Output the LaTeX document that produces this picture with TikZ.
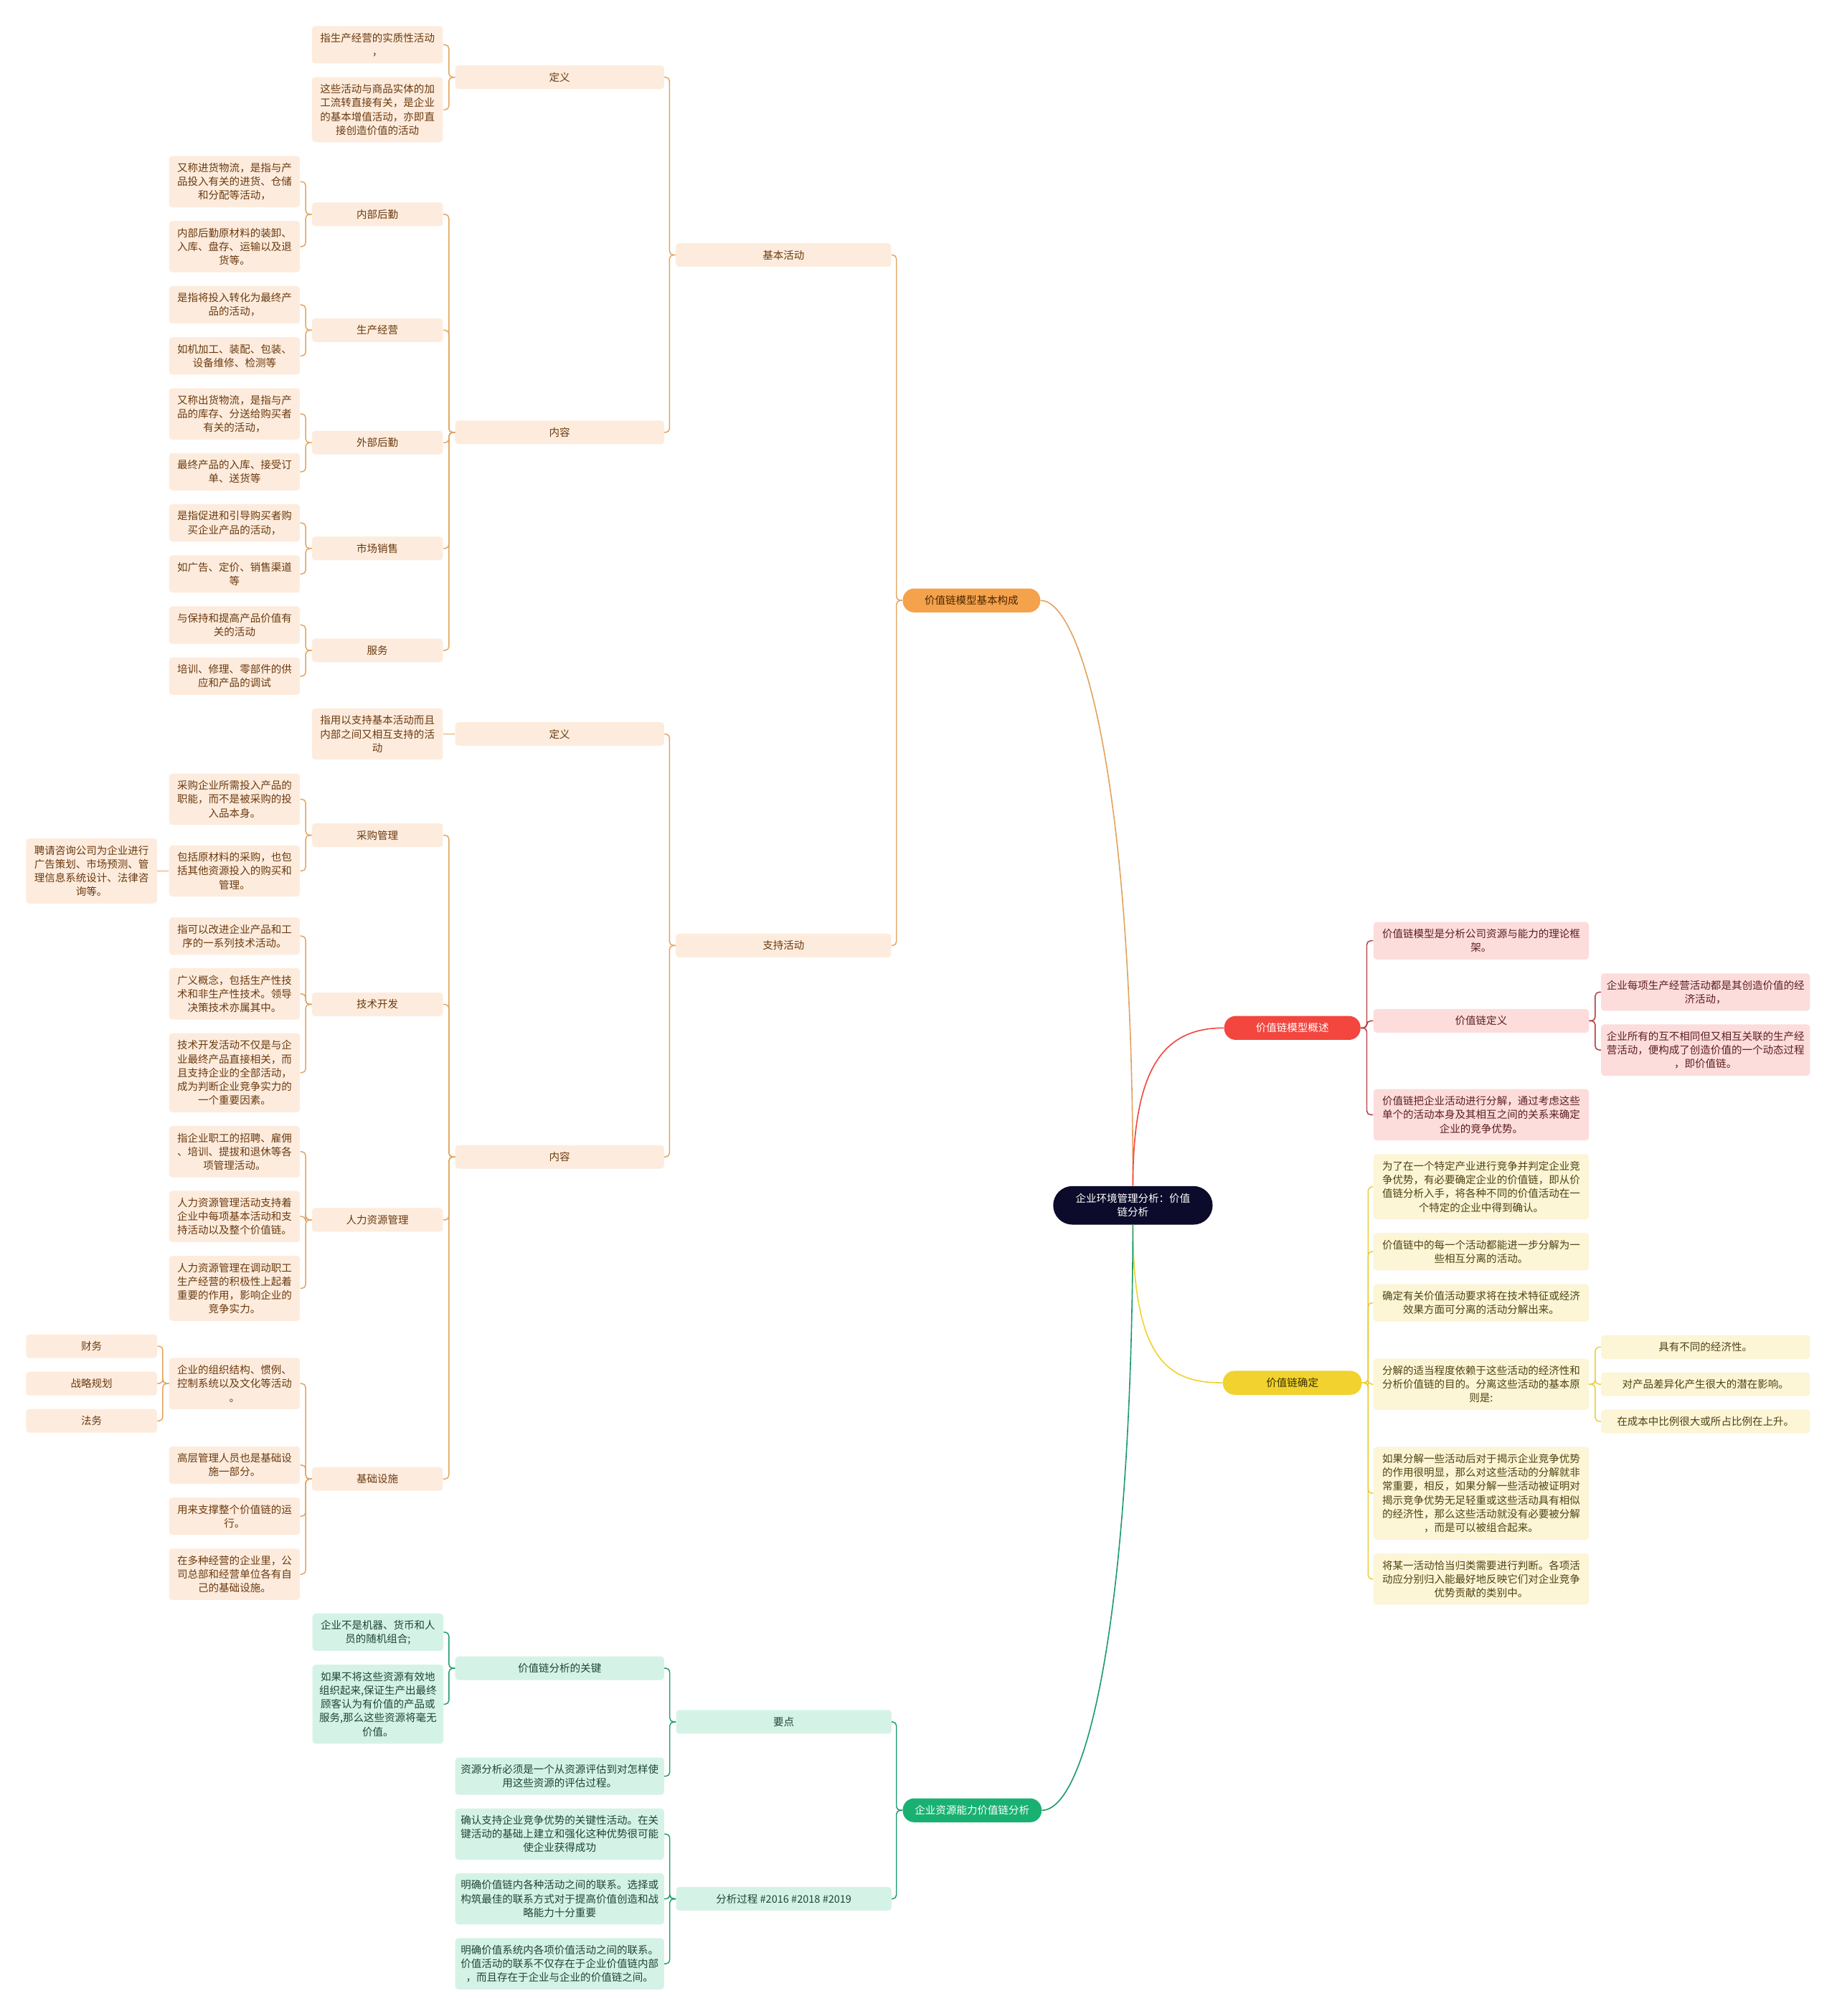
\documentclass[tikz,border=0pt]{standalone}
\usepackage{fontspec}
\newfontfamily\cjk{Noto Sans CJK SC}
\usetikzlibrary{calc}
\definecolor{ofill}{HTML}{FDECDD}
\definecolor{otext}{HTML}{6B3A10}
\definecolor{oline}{HTML}{E2A35E}
\definecolor{opill}{HTML}{F5A24C}
\definecolor{optext}{HTML}{4A2600}
\definecolor{rfill}{HTML}{FDDCDC}
\definecolor{rtext}{HTML}{5C1F1F}
\definecolor{rline}{HTML}{B0383A}
\definecolor{rpill}{HTML}{F2463F}
\definecolor{yfill}{HTML}{FCF5D6}
\definecolor{ytext}{HTML}{4F4312}
\definecolor{yline}{HTML}{E9CE3A}
\definecolor{ypill}{HTML}{F1D22E}
\definecolor{yptext}{HTML}{3A3000}
\definecolor{gfill}{HTML}{D4F3E6}
\definecolor{gtext}{HTML}{1E4535}
\definecolor{gline}{HTML}{1C9B6C}
\definecolor{gpill}{HTML}{18B172}
\definecolor{navy}{HTML}{0C0B2B}
\tikzset{
 bx/.style={rounded corners=2.5pt, inner sep=0pt, align=center, font=\cjk\fontsize{8.1}{10.7}\selectfont},
 ob/.style={bx, fill=ofill, text=otext},
 rb/.style={bx, fill=rfill, text=rtext},
 yb/.style={bx, fill=yfill, text=ytext},
 gb/.style={bx, fill=gfill, text=gtext},
 wS/.style={minimum width=101.8pt},
 wM/.style={minimum width=162.4pt},
 wL/.style={minimum width=167.5pt},
 l1/.style={minimum height=18.4pt},
 l2/.style={minimum height=29.1pt},
 l3/.style={minimum height=39.9pt},
 l4/.style={minimum height=50.6pt},
 l5/.style={minimum height=61.5pt},
 l6/.style={minimum height=72.2pt},
 pill/.style={bx, rounded corners=9pt, minimum width=107pt, minimum height=18.6pt},
 cl/.style={line width=0.8pt, rounded corners=3pt},
 ml/.style={line width=0.9pt},
}
\newcommand\linkL[3]{\draw[cl,#3] (#1.west) -- ++(-4.7,0) |- (#2.east);}
\newcommand\linkR[3]{\draw[cl,#3] (#1.east) -- ++(4.7,0) |- (#2.west);}
\newcommand\linkS[3]{\draw[cl,#3] (#1.west) -- (#2.east |- #1.west);}
\begin{document}
\begin{tikzpicture}[x=1pt,y=-1pt]
\fill[white] (0,0) rectangle (1428,1568);
\useasboundingbox (0,0) rectangle (1428,1568);

% center
\node[bx, rounded corners=15pt, fill=navy, text=white, minimum width=124pt, minimum height=30pt] (ctr) at (881,937.5) {企业环境管理分析：价值\\链分析};

% level 1
\node[pill, fill=opill, text=optext] (La) at (755.5,467) {价值链模型基本构成};
\node[pill, fill=gpill, text=white, minimum width=108pt] (Ld) at (756,1408) {企业资源能力价值链分析};
\node[pill, fill=rpill, text=white, minimum width=106pt] (Lb) at (1005,799.5) {价值链模型概述};
\node[pill, fill=ypill, text=yptext, minimum width=108pt] (Lc) at (1005,1075.5) {价值链确定};

% orange subtree
\node[ob,wL,l1] (jbhd) at (609.3,198.3) {基本活动};
\node[ob,wL,l1] (zchd) at (609.3,735.4) {支持活动};
\node[ob,wM,l1] (dy1) at (435.2,60.1) {定义};
\node[ob,wM,l1] (nr1) at (435.2,336.3) {内容};
\node[ob,wM,l1] (dy2) at (435.2,570.9) {定义};
\node[ob,wM,l1] (nr2) at (435.2,899.8) {内容};

\node[ob,wS,l2] (a1) at (293.5,34.8) {指生产经营的实质性活动\\，};
\node[ob,wS,l4] (a2) at (293.5,85.35) {这些活动与商品实体的加\\工流转直接有关，是企业\\的基本增值活动，亦即直\\接创造价值的活动};
\node[ob,wS,l1] (nbhq) at (293.5,166.7) {内部后勤};
\node[ob,wS,l1] (scjy) at (293.5,256.8) {生产经营};
\node[ob,wS,l1] (wbhq) at (293.5,344.3) {外部后勤};
\node[ob,wS,l1] (scxs) at (293.5,426.55) {市场销售};
\node[ob,wS,l1] (fw) at (293.5,505.9) {服务};
\node[ob,wS,l3] (g1) at (293.5,570.9) {指用以支持基本活动而且\\内部之间又相互支持的活\\动};
\node[ob,wS,l1] (cggl) at (293.5,649.6) {采购管理};
\node[ob,wS,l1] (jskf) at (293.5,781.15) {技术开发};
\node[ob,wS,l1] (rlzy) at (293.5,948.8) {人力资源管理};
\node[ob,wS,l1] (jcss) at (293.5,1150.3) {基础设施};

\node[ob,wS,l3] (b1) at (182.4,141.3) {又称进货物流，是指与产\\品投入有关的进货、仓储\\和分配等活动，};
\node[ob,wS,l3] (b2) at (182.4,191.8) {内部后勤原材料的装卸、\\入库、盘存、运输以及退\\货等。};
\node[ob,wS,l2] (c1) at (182.4,237.1) {是指将投入转化为最终产\\品的活动，};
\node[ob,wS,l2] (c2) at (182.4,276.8) {如机加工、装配、包装、\\设备维修、检测等};
\node[ob,wS,l3] (d1) at (182.4,321.9) {又称出货物流，是指与产\\品的库存、分送给购买者\\有关的活动，};
\node[ob,wS,l2] (d2) at (182.4,366.95) {最终产品的入库、接受订\\单、送货等};
\node[ob,wS,l2] (e1) at (182.4,406.75) {是指促进和引导购买者购\\买企业产品的活动，};
\node[ob,wS,l2] (e2) at (182.4,446.45) {如广告、定价、销售渠道\\等};
\node[ob,wS,l2] (f1) at (182.4,486.1) {与保持和提高产品价值有\\关的活动};
\node[ob,wS,l2] (f2) at (182.4,525.9) {培训、修理、零部件的供\\应和产品的调试};
\node[ob,wS,l3] (h1) at (182.4,621.6) {采购企业所需投入产品的\\职能，而不是被采购的投\\入品本身。};
\node[ob,wS,l3] (h2) at (182.4,677.4) {包括原材料的采购，也包\\括其他资源投入的购买和\\管理。};
\node[ob,wS,l2] (i1) at (182.4,728.05) {指可以改进企业产品和工\\序的一系列技术活动。};
\node[ob,wS,l3] (i2) at (182.4,773) {广义概念，包括生产性技\\术和非生产性技术。领导\\决策技术亦属其中。};
\node[ob,wS,l5] (i3) at (182.4,834.3) {技术开发活动不仅是与企\\业最终产品直接相关，而\\且支持企业的全部活动，\\成为判断企业竞争实力的\\一个重要因素。};
\node[ob,wS,l3] (j1) at (182.4,895.75) {指企业职工的招聘、雇佣\\、培训、提拔和退休等各\\项管理活动。};
\node[ob,wS,l3] (j2) at (182.4,946.15) {人力资源管理活动支持着\\企业中每项基本活动和支\\持活动以及整个价值链。};
\node[ob,wS,l4] (j3) at (182.4,1002.05) {人力资源管理在调动职工\\生产经营的积极性上起着\\重要的作用，影响企业的\\竞争实力。};
\node[ob,wS,l3] (k1) at (182.4,1076.1) {企业的组织结构、惯例、\\控制系统以及文化等活动\\。};
\node[ob,wS,l2] (k2) at (182.4,1139.5) {高层管理人员也是基础设\\施一部分。};
\node[ob,wS,l2] (k3) at (182.4,1179.25) {用来支撑整个价值链的运\\行。};
\node[ob,wS,l3] (k4) at (182.4,1224.4) {在多种经营的企业里，公\\司总部和经营单位各有自\\己的基础设施。};

\node[ob,wS,l4] (p1) at (71.2,677.4) {聘请咨询公司为企业进行\\广告策划、市场预测、管\\理信息系统设计、法律咨\\询等。};
\node[ob,wS,l1] (cw) at (71.2,1047) {财务};
\node[ob,wS,l1] (zlgh) at (71.2,1076.1) {战略规划};
\node[ob,wS,l1] (fwu) at (71.2,1105.1) {法务};

% green subtree
\node[gb,wL,l1] (yd) at (609.5,1339.25) {要点};
\node[gb,wL,l1] (fxgc) at (609.5,1476.85) {分析过程 \#2016 \#2018 \#2019};
\node[gb,wM,l1] (gj) at (435.2,1297.5) {价值链分析的关键};
\node[gb,wM,l2] (s1) at (435.2,1381.45) {资源分析必须是一个从资源评估到对怎样使\\用这些资源的评估过程。};
\node[gb,wM,l3] (n1) at (435.2,1426.45) {确认支持企业竞争优势的关键性活动。在关\\键活动的基础上建立和强化这种优势很可能\\使企业获得成功};
\node[gb,wM,l3] (n2) at (435.2,1476.85) {明确价值链内各种活动之间的联系。选择或\\构筑最佳的联系方式对于提高价值创造和战\\略能力十分重要};
\node[gb,wM,l3] (n3) at (435.2,1527.35) {明确价值系统内各项价值活动之间的联系。\\价值活动的联系不仅存在于企业价值链内部\\，而且存在于企业与企业的价值链之间。};
\node[gb,wS,l2] (m1) at (293.9,1269.45) {企业不是机器、货币和人\\员的随机组合;};
\node[gb,wS,l5] (m2) at (293.9,1325.5) {如果不将这些资源有效地\\组织起来,保证生产出最终\\顾客认为有价值的产品或\\服务,那么这些资源将毫无\\价值。};

% red subtree
\node[rb,wL,l2] (r1) at (1151.85,731.7) {价值链模型是分析公司资源与能力的理论框\\架。};
\node[rb,wL,l1] (jzldy) at (1151.85,794) {价值链定义};
\node[rb,wL,l3] (r3) at (1151.85,867.05) {价值链把企业活动进行分解，通过考虑这些\\单个的活动本身及其相互之间的关系来确定\\企业的竞争优势。};
\node[rb,wM,l2] (r2a) at (1326.3,771.65) {企业每项生产经营活动都是其创造价值的经\\济活动，};
\node[rb,wM,l3] (r2b) at (1326.3,816.65) {企业所有的互不相同但又相互关联的生产经\\营活动，便构成了创造价值的一个动态过程\\，即价值链。};

% yellow subtree
\node[yb,wL,l4] (y1) at (1151.85,923) {为了在一个特定产业进行竞争并判定企业竞\\争优势，有必要确定企业的价值链，即从价\\值链分析入手，将各种不同的价值活动在一\\个特定的企业中得到确认。};
\node[yb,wL,l2] (y2) at (1151.85,973.45) {价值链中的每一个活动都能进一步分解为一\\些相互分离的活动。};
\node[yb,wL,l2] (y3) at (1151.85,1013.3) {确定有关价值活动要求将在技术特征或经济\\效果方面可分离的活动分解出来。};
\node[yb,wL,l3] (y4) at (1151.85,1076.6) {分解的适当程度依赖于这些活动的经济性和\\分析价值链的目的。分离这些活动的基本原\\则是:};
\node[yb,wL,l6] (y5) at (1151.85,1161.4) {如果分解一些活动后对于揭示企业竞争优势\\的作用很明显，那么对这些活动的分解就非\\常重要，相反，如果分解一些活动被证明对\\揭示竞争优势无足轻重或这些活动具有相似\\的经济性，那么这些活动就没有必要被分解\\，而是可以被组合起来。};
\node[yb,wL,l3] (y6) at (1151.85,1228.1) {将某一活动恰当归类需要进行判断。各项活\\动应分别归入能最好地反映它们对企业竞争\\优势贡献的类别中。};
\node[yb,wM,l1] (y4a) at (1326.3,1047.7) {具有不同的经济性。};
\node[yb,wM,l1] (y4b) at (1326.3,1076.6) {对产品差异化产生很大的潜在影响。};
\node[yb,wM,l1] (y4c) at (1326.3,1105.5) {在成本中比例很大或所占比例在上升。};

% main curves
\draw[ml,oline] (ctr.north) .. controls (881,600) and (840,467) .. (La.east);
\draw[ml,rpill] (ctr.north) .. controls (881,830) and (905,799.5) .. (Lb.west);
\draw[ml,ypill] (ctr.south) .. controls (881,1060) and (910,1075.5) .. (Lc.west);
\draw[ml,gline] (ctr.south) .. controls (880,1260) and (845,1408) .. (Ld.east);

% orange links
\linkL{La}{jbhd}{oline}
\linkL{La}{zchd}{oline}
\linkL{jbhd}{dy1}{oline}
\linkL{jbhd}{nr1}{oline}
\linkL{dy1}{a1}{oline}
\linkL{dy1}{a2}{oline}
\linkL{nr1}{nbhq}{oline}
\linkL{nr1}{scjy}{oline}
\linkL{nr1}{wbhq}{oline}
\linkL{nr1}{scxs}{oline}
\linkL{nr1}{fw}{oline}
\linkL{nbhq}{b1}{oline}
\linkL{nbhq}{b2}{oline}
\linkL{scjy}{c1}{oline}
\linkL{scjy}{c2}{oline}
\linkL{wbhq}{d1}{oline}
\linkL{wbhq}{d2}{oline}
\linkL{scxs}{e1}{oline}
\linkL{scxs}{e2}{oline}
\linkL{fw}{f1}{oline}
\linkL{fw}{f2}{oline}
\linkL{zchd}{dy2}{oline}
\linkL{zchd}{nr2}{oline}
\linkS{dy2}{g1}{oline}
\linkL{nr2}{cggl}{oline}
\linkL{nr2}{jskf}{oline}
\linkL{nr2}{rlzy}{oline}
\linkL{nr2}{jcss}{oline}
\linkL{cggl}{h1}{oline}
\linkL{cggl}{h2}{oline}
\linkS{h2}{p1}{oline}
\linkL{jskf}{i1}{oline}
\linkL{jskf}{i2}{oline}
\linkL{jskf}{i3}{oline}
\linkL{rlzy}{j1}{oline}
\linkL{rlzy}{j2}{oline}
\linkL{rlzy}{j3}{oline}
\linkL{jcss}{k1}{oline}
\linkL{jcss}{k2}{oline}
\linkL{jcss}{k3}{oline}
\linkL{jcss}{k4}{oline}
\linkL{k1}{cw}{oline}
\linkL{k1}{zlgh}{oline}
\linkL{k1}{fwu}{oline}

% green links
\linkL{Ld}{yd}{gline}
\linkL{Ld}{fxgc}{gline}
\linkL{yd}{gj}{gline}
\linkL{yd}{s1}{gline}
\linkL{gj}{m1}{gline}
\linkL{gj}{m2}{gline}
\linkL{fxgc}{n1}{gline}
\linkL{fxgc}{n2}{gline}
\linkL{fxgc}{n3}{gline}

% red links
\linkR{Lb}{r1}{rline}
\linkR{Lb}{jzldy}{rline}
\linkR{Lb}{r3}{rline}
\linkR{jzldy}{r2a}{rline}
\linkR{jzldy}{r2b}{rline}

% yellow links
\linkR{Lc}{y1}{yline}
\linkR{Lc}{y2}{yline}
\linkR{Lc}{y3}{yline}
\linkR{Lc}{y4}{yline}
\linkR{Lc}{y5}{yline}
\linkR{Lc}{y6}{yline}
\linkR{y4}{y4a}{yline}
\linkR{y4}{y4b}{yline}
\linkR{y4}{y4c}{yline}
\end{tikzpicture}
\end{document}
